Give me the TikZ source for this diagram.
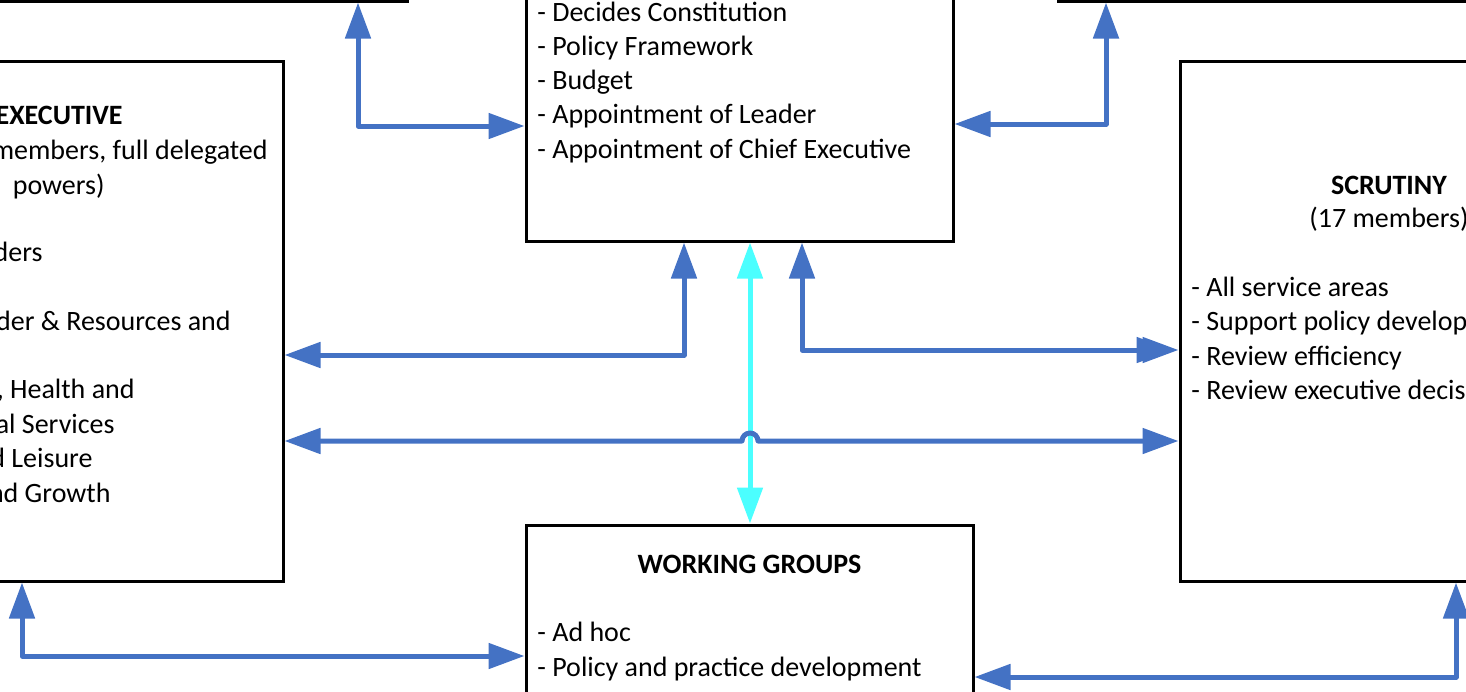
\documentclass[tikz,border=0pt]{standalone}
\usepackage{fontspec}
\setmainfont{Carlito}
\usetikzlibrary{positioning,fit,arrows.meta}
\definecolor{linkblue}{HTML}{4472C4}
\definecolor{hubcyan}{HTML}{4BFFFF}

\begin{document}
\begin{tikzpicture}[x=0.5pt, y=-0.5pt,
    box/.style={draw, line width=1.5pt, inner sep=0pt},
    txt/.style={inner sep=0pt, font=\fontsize{14}{17.25}\selectfont},
    >={Triangle[length=18pt,width=12.5pt]},
    link/.style={draw=linkblue, line width=2.5pt, line join=round, <->},
    hub/.style={link, draw=hubcyan}]
    \useasboundingbox (0,0) rectangle (1466,691);

    % boxes (cut by the frame)
    \node[box, fit={(-300,-200) (407,1)}] (topL) {};
    \node[box, fit={(1058,-200) (1800,1)}] (topR) {};
    \node[box, fit={(526,-300) (953,241)}] (council) {};
    \node[box, fit={(-165,61) (283,581)}] (exec) {};
    \node[box, fit={(1180,61) (1598,581)}] (scrut) {};
    \node[box, fit={(526,525) (973,900)}] (wg) {};

    % council
    \foreach \y/\t in {21/{- Decides Constitution}, 55/{- Policy Framework}, 89/{- Budget},
                       123/{- Appointment of Leader}, 158/{- Appointment of Chief Executive}}
        \node[txt, anchor=base west] (council-\y) at (537,\y) {\t};

    % executive
    \foreach \x/\y/\t in {123/124/{\bfseries EXECUTIVE}, 268/159/{(10 members, full delegated},
                          105/194/{powers)}, 43/261/{- Leaders}, 231/330/{- Leader \& Resources and},
                          135/398/{- Adult Care, Health and}, 115/433/{Social Services},
                          93/467/{- Culture and Leisure}, 111/502/{- Economy and Growth}}
        \node[txt, anchor=base east] (exec-\y) at (\x,\y) {\t};

    % scrutiny
    \node[txt, anchor=base] (scrut-title) at (1389,194) {\bfseries SCRUTINY};
    \node[txt, anchor=base] (scrut-size) at (1389,227) {(17 members)};
    \foreach \y/\t in {296/{- All service areas}, 330/{- Support policy development},
                       365/{- Review efficiency}, 399/{- Review executive decisions}}
        \node[txt, anchor=base west] (scrut-\y) at (1191,\y) {\t};

    % working groups
    \node[txt, anchor=base] (wg-title) at (749.5,573) {\bfseries WORKING GROUPS};
    \node[txt, anchor=base west] (wg-1) at (537,641) {- Ad hoc};
    \node[txt, anchor=base west] (wg-2) at (537,676) {- Policy and practice development};

    % connectors
    \draw[hub] (council.south -| 750,0) -- (wg.north -| 750,0);
    \draw[link] (topL.south -| 358,0) |- (council.west |- 0,126);
    \draw[link] (topR.south -| 1106,0) |- (council.east |- 0,124);
    \draw[link] (council.south -| 684,0) |- (exec.east |- 0,355);
    \draw[link, arrows={Triangle[length=18pt,width=12.5pt]-Triangle[length=18pt,width=12.5pt,sep=-15pt]Triangle[length=18pt,width=12.5pt]}]
        (council.south -| 802,0) |- (scrut.west |- 0,350);
    \draw[link] (exec.east |- 0,441) -- (742,441) arc[start angle=180, end angle=0, radius=4pt]
        -- (scrut.west |- 0,441);
    \draw[link] (exec.south -| 22,0) |- (wg.west |- 0,656);
    \draw[link] (scrut.south -| 1456,0) |- (wg.east |- 0,677);
\end{tikzpicture}
\end{document}
